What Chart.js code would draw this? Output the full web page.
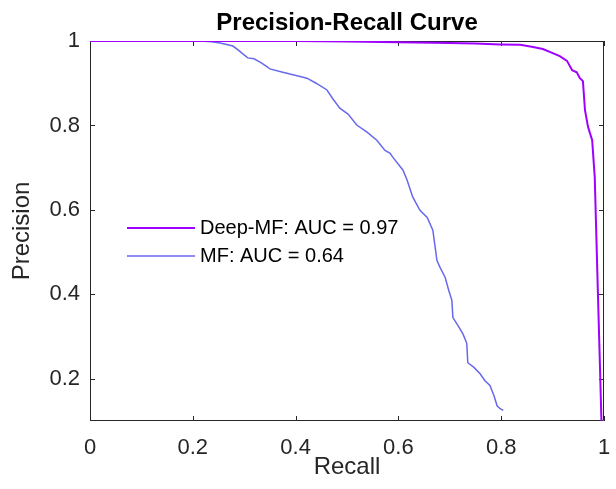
<!DOCTYPE html>
<html>
<head>
<meta charset="utf-8">
<script src="https://cdn.jsdelivr.net/npm/chart.js@4.4.1/dist/chart.umd.min.js"></script>
<style>
  html, body { margin: 0; padding: 0; background: #fff; }
  #wrap { width: 616px; height: 489px; }
</style>
</head>
<body>
<div id="wrap"><canvas id="prChart" width="616" height="489"></canvas></div>
<script>
// valores
const seriesNames = ['Deep-MF: AUC = 0.97', 'MF: AUC = 0.64'];
const seriesColors = ['#A000FF', '#6868EE'];

const recallDeep = [0, 0.2, 0.4, 0.5, 0.6, 0.7, 0.75, 0.798, 0.837, 0.862, 0.881, 0.899, 0.914, 0.928, 0.938, 0.947, 0.953, 0.959, 0.963, 0.969, 0.977, 0.982, 0.988, 0.992, 0.995];
const precisionDeep = [1, 1, 1, 0.999, 0.997, 0.995, 0.994, 0.992, 0.991, 0.986, 0.981, 0.972, 0.964, 0.953, 0.931, 0.926, 0.912, 0.905, 0.836, 0.796, 0.765, 0.677, 0.409, 0.236, 0.1];

const recallMF = [0, 0.214, 0.237, 0.253, 0.268, 0.278, 0.288, 0.298, 0.307, 0.319, 0.331, 0.342, 0.35, 0.375, 0.399, 0.422, 0.44, 0.461, 0.473, 0.486, 0.502, 0.519, 0.539, 0.558, 0.574, 0.584, 0.589, 0.609, 0.617, 0.628, 0.642, 0.656, 0.667, 0.671, 0.675, 0.681, 0.691, 0.698, 0.704, 0.706, 0.716, 0.726, 0.733, 0.735, 0.747, 0.759, 0.768, 0.778, 0.786, 0.792, 0.798, 0.804];
const precisionMF = [1, 1, 0.998, 0.995, 0.991, 0.988, 0.979, 0.969, 0.96, 0.958, 0.95, 0.941, 0.934, 0.926, 0.919, 0.912, 0.9, 0.884, 0.862, 0.841, 0.827, 0.801, 0.784, 0.765, 0.741, 0.734, 0.725, 0.694, 0.67, 0.63, 0.599, 0.582, 0.552, 0.516, 0.48, 0.464, 0.44, 0.409, 0.386, 0.345, 0.326, 0.305, 0.284, 0.238, 0.227, 0.212, 0.196, 0.184, 0.16, 0.136, 0.129, 0.125];

const xTicks = [0, 0.2, 0.4, 0.6, 0.8, 1];
const yTicks = [0.2, 0.4, 0.6, 0.8, 1];

const axisColor = '#262626';
const fontFamily = '"Liberation Sans", Arial, sans-serif';

function toPoints(xs, ys) {
  return xs.map((x, i) => ({ x: x, y: ys[i] }));
}

// caja con marcas hacia dentro (estilo MATLAB)
const boxPlugin = {
  id: 'boxPlugin',
  beforeDatasetsDraw(chart) {
    const { ctx, chartArea: a, scales } = chart;
    const tl = 5;
    ctx.save();
    ctx.strokeStyle = axisColor;
    ctx.lineWidth = 1;
    ctx.beginPath();
    ctx.rect(a.left + 0.5, a.top + 0.5, a.right - a.left - 1, a.bottom - a.top - 1);
    xTicks.forEach(v => {
      const px = Math.round(scales.x.getPixelForValue(v)) + 0.5;
      ctx.moveTo(px, a.bottom); ctx.lineTo(px, a.bottom - tl);
      ctx.moveTo(px, a.top); ctx.lineTo(px, a.top + tl);
    });
    yTicks.forEach(v => {
      const py = Math.round(scales.y.getPixelForValue(v)) + 0.5;
      ctx.moveTo(a.left, py); ctx.lineTo(a.left + tl, py);
      ctx.moveTo(a.right, py); ctx.lineTo(a.right - tl, py);
    });
    ctx.stroke();
    ctx.restore();
  },
  afterDatasetsDraw(chart) {
    // leyenda dentro del area, sin recuadro
    const { ctx } = chart;
    ctx.save();
    ctx.font = '20px ' + fontFamily;
    ctx.textBaseline = 'middle';
    ctx.textAlign = 'left';
    chart.data.datasets.forEach((ds, i) => {
      const y = 228 + i * 28;
      ctx.strokeStyle = ds.borderColor;
      ctx.lineWidth = i === 0 ? 2 : 1.5;
      ctx.beginPath();
      ctx.moveTo(127, y);
      ctx.lineTo(195, y);
      ctx.stroke();
      ctx.fillStyle = '#000';
      ctx.fillText(ds.label, 200, y);
    });
    ctx.restore();
  }
};

new Chart(document.getElementById('prChart'), {
  type: 'line',
  data: {
    datasets: [
      {
        label: seriesNames[0],
        data: toPoints(recallDeep, precisionDeep),
        borderColor: seriesColors[0],
        borderWidth: 2,
        pointRadius: 0,
        tension: 0,
        fill: false
      },
      {
        label: seriesNames[1],
        data: toPoints(recallMF, precisionMF),
        borderColor: seriesColors[1],
        borderWidth: 1.5,
        pointRadius: 0,
        tension: 0,
        fill: false
      }
    ]
  },
  options: {
    responsive: false,
    animation: false,
    layout: { padding: { top: 0, right: 12, bottom: 0, left: 0 } },
    plugins: {
      legend: { display: false },
      tooltip: { enabled: false },
      title: {
        display: true,
        fullSize: false,
        text: 'Precision-Recall Curve',
        color: '#000',
        font: { family: fontFamily, size: 24, weight: 'bold', lineHeight: 1.2 },
        padding: { top: 9, bottom: 3.2 }
      }
    },
    scales: {
      x: {
        type: 'linear',
        min: 0,
        max: 1,
        afterFit(scale) {
          scale.height = 68;
          scale.paddingLeft = 0;
          scale.paddingRight = 0;
        },
        afterBuildTicks(scale) { scale.ticks = xTicks.map(v => ({ value: v })); },
        grid: { display: false, drawTicks: false },
        border: { display: false },
        ticks: {
          color: axisColor,
          padding: 14,
          maxRotation: 0,
          font: { family: fontFamily, size: 22 },
          callback: v => String(v)
        },
        title: {
          display: true,
          text: 'Recall',
          color: axisColor,
          font: { family: fontFamily, size: 24, lineHeight: 1.2 },
          padding: { top: 0, bottom: 7 }
        }
      },
      y: {
        type: 'linear',
        min: 0.1,
        max: 1,
        afterFit(scale) { scale.width = 90; },
        afterBuildTicks(scale) { scale.ticks = yTicks.map(v => ({ value: v })); },
        grid: { display: false, drawTicks: false },
        border: { display: false },
        ticks: {
          color: axisColor,
          padding: 10,
          font: { family: fontFamily, size: 22 },
          callback: v => String(v)
        },
        title: {
          display: true,
          text: 'Precision',
          color: axisColor,
          font: { family: fontFamily, size: 24, lineHeight: 1.2 },
          padding: { top: 8, bottom: 0 }
        }
      }
    }
  },
  plugins: [boxPlugin]
});
</script>
</body>
</html>
